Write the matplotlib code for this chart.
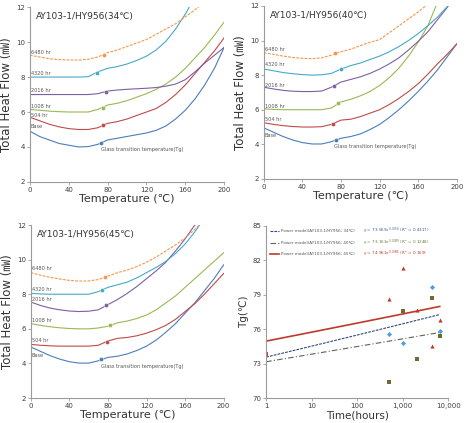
import numpy as np
import matplotlib
matplotlib.use("Agg")
import matplotlib.pyplot as plt
from matplotlib.ticker import FixedLocator, NullLocator

plt.rcParams['font.family'] = ['DejaVu Sans', 'Noto Sans CJK KR']

# =====================
# DSC curves (temperature grid, heat flow per aging time)
# =====================
T = [0, 10, 20, 30, 40, 50, 60, 70, 80, 90, 100, 110, 120, 130, 140, 150, 160, 170, 180, 190, 200]
hours_labels = ["Base", "504 hr", "1008 hr", "2016 hr", "4320 hr", "6480 hr"]

# 34C
base_34 = [4.9, 4.6, 4.4, 4.2, 4.1, 4.0, 4.02, 4.15, 4.4, 4.5, 4.6, 4.7, 4.8, 4.95, 5.2, 5.6, 6.1, 6.75, 7.55, 8.5, 9.7]
h504_34 = [5.7, 5.5, 5.3, 5.15, 5.05, 5.0, 5.0, 5.1, 5.35, 5.45, 5.6, 5.8, 6.0, 6.2, 6.55, 7.0, 7.55, 8.2, 8.85, 9.5, 10.25]
h1008_34 = [6.15, 6.1, 6.05, 6.02, 6.0, 6.0, 6.0, 6.15, 6.4, 6.5, 6.65, 6.85, 7.05, 7.3, 7.6, 8.0, 8.5, 9.1, 9.7, 10.4, 11.15]
h2016_34 = [7.0, 7.0, 7.0, 7.0, 7.0, 7.0, 7.0, 7.05, 7.2, 7.26, 7.3, 7.33, 7.36, 7.4, 7.48, 7.6, 7.85, 8.3, 8.8, 9.25, 9.7]
h4320_34 = [8.0, 8.0, 8.0, 8.0, 8.0, 8.0, 8.02, 8.3, 8.5, 8.6, 8.75, 8.95, 9.2, 9.55, 10.05, 10.75, 11.6, 12.6]
h6480_34 = [9.25, 9.15, 9.05, 9.0, 8.98, 8.97, 9.02, 9.15, 9.4, 9.55, 9.75, 9.95, 10.15, 10.45, 10.75, 11.05, 11.45, 11.85, 12.3]
tg_x_34 = [73, 75, 75, 78, 69, 76]
tg_y_34 = [4.22, 5.25, 6.25, 7.15, 8.25, 9.25]
lab_y_34 = [5.15, 5.8, 6.32, 7.25, 8.2, 9.4]

# 40C
base_40 = [4.95, 4.7, 4.45, 4.25, 4.1, 4.02, 4.02, 4.15, 4.35, 4.45, 4.6, 4.85, 5.15, 5.55, 6.0, 6.5, 7.05, 7.65, 8.3, 9.05, 9.8]
h504_40 = [5.25, 5.15, 5.08, 5.03, 5.0, 5.0, 5.02, 5.15, 5.4, 5.45, 5.6, 5.8, 6.0, 6.3, 6.65, 7.05, 7.5, 8.05, 8.65, 9.2, 9.8]
h1008_40 = [6.05, 6.02, 6.0, 6.0, 6.0, 6.0, 6.0, 6.1, 6.45, 6.6, 6.8, 7.05, 7.4, 7.85, 8.4, 9.1, 9.9, 10.85, 12.2]
h2016_40 = [7.3, 7.2, 7.12, 7.07, 7.05, 7.05, 7.08, 7.3, 7.6, 7.75, 7.9, 8.1, 8.35, 8.65, 9.0, 9.45, 9.95, 10.5, 11.2, 11.9, 12.7]
h4320_40 = [8.35, 8.25, 8.15, 8.08, 8.03, 8.0, 8.02, 8.1, 8.35, 8.55, 8.7, 8.9, 9.1, 9.35, 9.65, 10.0, 10.4, 10.85, 11.35, 11.95, 12.6]
h6480_40 = [9.3, 9.2, 9.1, 9.02, 8.97, 8.95, 9.0, 9.15, 9.35, 9.5, 9.7, 9.9, 10.05, 10.45, 10.85, 11.25, 11.65, 12.1]
tg_x_40 = [75, 72, 77, 73, 80, 74]
tg_y_40 = [4.25, 5.2, 6.4, 7.4, 8.35, 9.25]
lab_y_40 = [4.5, 5.45, 6.2, 7.4, 8.6, 9.5]

# 45C
base_45 = [4.95, 4.7, 4.45, 4.25, 4.1, 4.02, 4.02, 4.15, 4.35, 4.42, 4.55, 4.75, 5.0, 5.35, 5.8, 6.3, 6.9, 7.5, 8.2, 8.9, 9.7]
h504_45 = [5.1, 5.05, 5.02, 5.0, 5.0, 5.0, 5.0, 5.05, 5.3, 5.45, 5.5, 5.6, 5.75, 5.95, 6.2, 6.55, 7.0, 7.45, 8.0, 8.6, 9.2]
h1008_45 = [6.3, 6.2, 6.12, 6.06, 6.02, 6.0, 6.0, 6.05, 6.15, 6.35, 6.45, 6.6, 6.8, 7.1, 7.5, 7.9, 8.4, 8.9, 9.4, 9.9, 10.4]
h2016_45 = [7.55, 7.35, 7.2, 7.1, 7.03, 7.0, 7.02, 7.1, 7.4, 7.7, 8.05, 8.45, 8.9, 9.35, 9.85, 10.5, 11.2, 12.0]
h4320_45 = [8.05, 8.02, 8.0, 8.0, 8.0, 8.0, 8.0, 8.15, 8.4, 8.55, 8.7, 8.95, 9.25, 9.55, 9.9, 10.35, 10.9, 11.6, 12.4]
h6480_45 = [9.25, 9.1, 8.98, 8.88, 8.8, 8.76, 8.77, 8.85, 9.05, 9.25, 9.4, 9.6, 9.85, 10.15, 10.5, 10.85, 11.25, 11.75, 12.3]
tg_x_45 = [73, 79, 82, 78, 74, 77]
tg_y_45 = [4.25, 5.25, 6.2, 7.35, 8.25, 9.0]
lab_y_45 = [4.45, 5.3, 6.48, 7.7, 8.25, 9.5]

# =====================
# Tg vs aging time
# =====================
base_hours = [1]
base_tg = [73.8]
hours_34 = [504, 1008, 4320, 6480]
tg_34 = [75.6, 74.8, 79.7, 75.8]
hours_40 = [504, 1008, 2016, 4320, 6480]
tg_40 = [71.4, 77.6, 73.4, 78.7, 75.4]
hours_45 = [504, 1008, 2016, 4320, 6480]
tg_45 = [78.6, 81.3, 77.7, 74.5, 76.8]
fit_a = [73.569, 73.163, 74.961]
fit_b = [0.0056, 0.0039, 0.0045]
fit_r2 = ["0.4317", "0.1248", "0.169"]
fit_temp = ["34℃", "40℃", "45℃"]

COLORS = ["#4a7ebb", "#be4b48", "#98b954", "#7d60a0", "#46aac5", "#f79646"]
AXC = "#9a9a9a"
TXT = "#404040"

fig = plt.figure(figsize=(4.67, 4.23), dpi=100)


def style_axes(ax):
    for s in ["top", "right"]:
        ax.spines[s].set_visible(False)
    for s in ["left", "bottom"]:
        ax.spines[s].set_color(AXC)
        ax.spines[s].set_linewidth(0.8)
    ax.tick_params(colors=AXC, labelcolor=TXT, labelsize=5, length=2, width=0.6, pad=1.5)


def dsc_panel(rect, curves, tg_x, tg_y, lab_y, title):
    ax = fig.add_axes(rect)
    for i, vals in enumerate(curves):
        ls = (0, (2.5, 1.2)) if i == 5 else "-"
        ax.plot(T[:len(vals)], vals, color=COLORS[i], lw=0.8, ls=ls)
        ax.plot(tg_x[i], tg_y[i], "o", color=COLORS[i], ms=3, mec="white", mew=0.3)
        ax.text(1, lab_y[i], hours_labels[i], fontsize=3.6, color="#555555", va="center", ha="left")
    ax.text(73, 3.85, "Glass transition temperature(Tg)", fontsize=3.6, color="#555555", va="center")
    ax.text(0.03, 0.97, title, transform=ax.transAxes, fontsize=6.5, color="#333333", va="top")
    ax.set_xlim(0, 200)
    ax.set_ylim(2, 12)
    ax.set_xticks([0, 40, 80, 120, 160, 200])
    ax.set_yticks([2, 4, 6, 8, 10, 12])
    ax.set_xlabel("Temperature (℃)", fontsize=8, color="#333333", labelpad=1)
    ax.set_ylabel("Total Heat Flow (㎽)", fontsize=8.5, color="#333333", labelpad=2)
    style_axes(ax)
    return ax


dsc_panel([0.064, 0.570, 0.416, 0.413],
          [base_34, h504_34, h1008_34, h2016_34, h4320_34, h6480_34],
          tg_x_34, tg_y_34, lab_y_34, "AY103-1/HY956(34℃)")
dsc_panel([0.565, 0.577, 0.413, 0.409],
          [base_40, h504_40, h1008_40, h2016_40, h4320_40, h6480_40],
          tg_x_40, tg_y_40, lab_y_40, "AY103-1/HY956(40℃)")
dsc_panel([0.066, 0.059, 0.413, 0.409],
          [base_45, h504_45, h1008_45, h2016_45, h4320_45, h6480_45],
          tg_x_45, tg_y_45, lab_y_45, "AY103-1/HY956(45℃)")

# =====================
# Tg panel
# =====================
ax = fig.add_axes([0.570, 0.059, 0.390, 0.407])
fit_styles = [(0, (2.5, 1.0)), (0, (5, 2, 1, 2)), "-"]
fit_colors = ["#2e4a7a", "#5d6650", "#c0392b"]
fit_lw = [0.8, 0.8, 1.2]
eq_colors = ["#3d5f96", "#6e7a3a", "#c0392b"]
xs = np.logspace(0, np.log10(6480), 60)
for i in range(3):
    ax.plot(xs, fit_a[i] * xs ** fit_b[i], color=fit_colors[i], ls=fit_styles[i], lw=fit_lw[i])

ax.plot(hours_34, tg_34, "D", color="#4f9de0", ms=2.6, mew=0)
ax.plot(hours_40, tg_40, "s", color="#6e6a30", ms=3, mew=0)
ax.plot(hours_45, tg_45, "^", color="#c0392b", ms=3, mew=0)
ax.plot(base_hours, base_tg, "s", color="#b5472e", ms=3.2, mew=0)

ax.set_xscale("log")
ax.set_xlim(1, 10000)
ax.set_ylim(70, 85)
ax.xaxis.set_major_locator(FixedLocator([1, 10, 100, 1000, 10000]))
ax.xaxis.set_minor_locator(NullLocator())
ax.set_xticklabels(["1", "10", "100", "1,000", "10,000"])
ax.set_yticks([70, 73, 76, 79, 82, 85])
ax.set_xlabel("Time(hours)", fontsize=7.5, color="#333333", labelpad=1)
ax.set_ylabel("Tg(℃)", fontsize=7.5, color="#333333", labelpad=2)
style_axes(ax)

leg_y = [0.971, 0.903, 0.838]
for i in range(3):
    ax.plot([0.02, 0.07], [leg_y[i], leg_y[i]], transform=ax.transAxes, color=fit_colors[i],
            ls=fit_styles[i], lw=fit_lw[i], clip_on=False)
    ax.text(0.08, leg_y[i], f"Power model(AY103-1/HY956; {fit_temp[i]})", transform=ax.transAxes,
            fontsize=3.0, color="#555555", va="center")
    ax.text(0.53, leg_y[i], f"y = {fit_a[i]}x$^{{{fit_b[i]}}}$ (R² = {fit_r2[i]})", transform=ax.transAxes,
            fontsize=3.0, color=eq_colors[i], va="center")

fig.savefig("out.png", dpi=100)
